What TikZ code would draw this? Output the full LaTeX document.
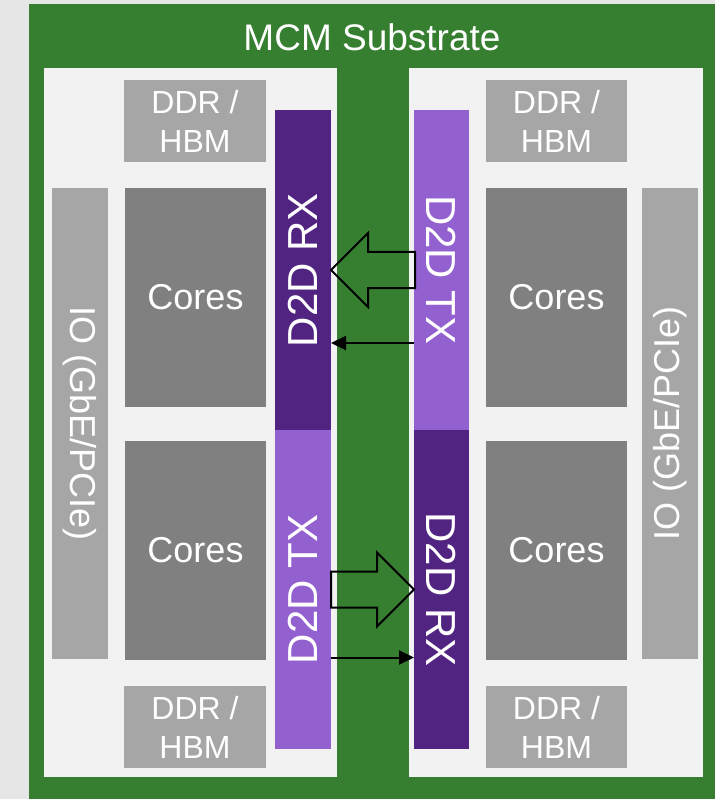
\documentclass[tikz,border=0pt]{standalone}
\usepackage{fontspec}
\setmainfont{Liberation Sans}
\usetikzlibrary{arrows.meta,positioning,calc}
\tikzset{>=Stealth}

\definecolor{bggray}{RGB}{230,230,230}
\definecolor{subgreen}{RGB}{54,127,49}
\definecolor{chipgray}{RGB}{242,242,242}
\definecolor{memgray}{RGB}{166,166,166}
\definecolor{coregray}{RGB}{128,128,128}
\definecolor{rxpurple}{RGB}{82,36,130}
\definecolor{txpurple}{RGB}{147,97,207}

\begin{document}
\begin{tikzpicture}[
    x=1pt, y=-1pt,
    blk/.style={inner sep=0pt, outer sep=0pt, text=white, align=center},
    chip/.style={blk, fill=chipgray, minimum width=293pt, minimum height=709pt},
    mem/.style={blk, fill=memgray, minimum width=142pt, minimum height=82pt,
                font=\fontsize{32}{39}\selectfont},
    cores/.style={blk, fill=coregray, minimum width=141pt, minimum height=219pt,
                  font=\fontsize{36}{43}\selectfont},
    io/.style={blk, fill=memgray, minimum width=56pt, minimum height=471pt},
    d2d/.style={blk, minimum width=56pt, minimum height=320pt},
    iotext/.style={text=white, inner sep=0pt, font=\fontsize{36}{43}\selectfont},
    d2dtext/.style={text=white, inner sep=0pt, font=\fontsize{42}{50}\selectfont},
    blockarr/.style={draw=black, line width=2pt, line join=miter},
    sig/.style={-{Triangle[length=15pt,width=14pt]}, line width=2pt}
  ]
    \path[use as bounding box, fill=bggray] (0,0) rectangle (715,799);
    \node[blk, fill=subgreen, anchor=north west, minimum width=686pt, minimum height=795pt] (sub) at (29,4) {};
    \node[text=white, font=\fontsize{37}{44}\selectfont] (title) at (372,37) {MCM Substrate};

    % two chiplets
    \node[chip] (chipL) at (190.5,422.5) {};
    \node[chip, minimum width=294pt] (chipR) at (556,422.5) {};

    % memory
    \node[mem] (memLt) at (195,121) {DDR /\\HBM};
    \node[mem] (memLb) at (195,727) {DDR /\\HBM};
    \node[mem, minimum width=141pt] (memRt) at (556.5,121) {DDR /\\HBM};
    \node[mem, minimum width=141pt] (memRb) at (556.5,727) {DDR /\\HBM};

    % cores
    \node[cores] (coreLt) at (195.5,297.5) {Cores};
    \node[cores] (coreLb) at (195.5,550.5) {Cores};
    \node[cores] (coreRt) at (556.5,297.5) {Cores};
    \node[cores] (coreRb) at (556.5,550.5) {Cores};

    % io
    \node[io, label={[iotext, rotate=-90]center:IO (GbE/PCIe)}] (ioL) at (80,423.5) {};
    \node[io, label={[iotext, rotate=90]center:IO (GbE/PCIe)}] (ioR) at (670,423.5) {};

    % die-to-die
    \node[d2d, fill=rxpurple, label={[d2dtext, rotate=90]center:D2D RX}] (rxLt) at (303,270) {};
    \node[d2d, fill=txpurple, minimum height=319pt, label={[d2dtext, rotate=90]center:D2D TX}] (txLb) at (303,589.5) {};
    \node[d2d, fill=txpurple, minimum width=55pt, label={[d2dtext, rotate=-90]center:D2D TX}] (txRt) at (441.5,270) {};
    \node[d2d, fill=rxpurple, minimum width=55pt, minimum height=319pt, label={[d2dtext, rotate=-90]center:D2D RX}] (rxRb) at (441.5,589.5) {};

    % links
    \draw[blockarr] (rxLt.east) -- ++(37,-37) -- ++(0,19) -- ++(47,0) -- ++(0,36)
      -- ++(-47,0) -- ++(0,19) -- cycle;
    \draw[sig] ($(txRt.west)+(0,73)$) -- ($(rxLt.east)+(0,73)$);
    \draw[blockarr] (rxRb.west) -- ++(-37,-37) -- ++(0,19) -- ++(-46,0) -- ++(0,36)
      -- ++(46,0) -- ++(0,19) -- cycle;
    \draw[sig] ($(txLb.east)+(0,68)$) -- ($(rxRb.west)+(0,68)$);
\end{tikzpicture}
\end{document}
